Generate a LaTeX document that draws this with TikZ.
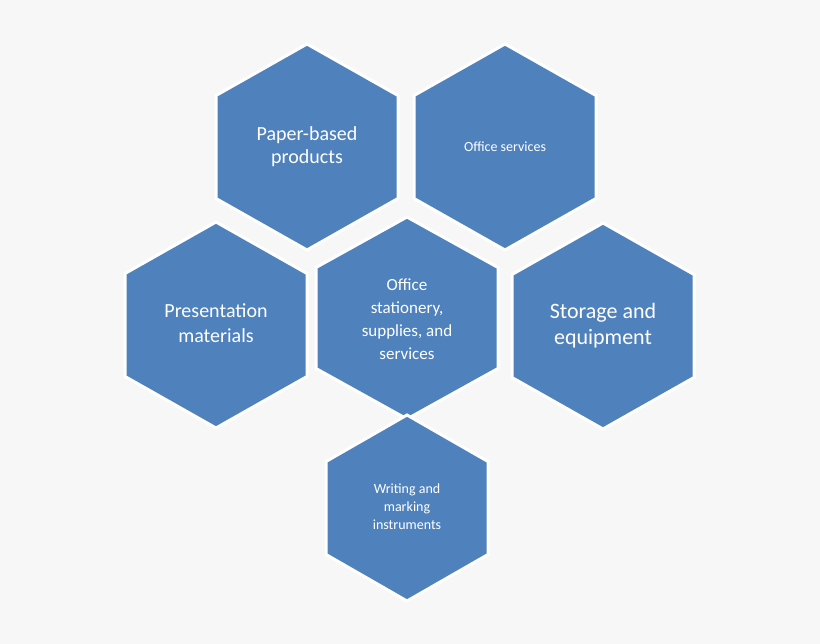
\documentclass[tikz,border=0pt]{standalone}
\usepackage{fontspec}
\setmainfont{Carlito}
\definecolor{bg}{HTML}{F7F7F7}
\definecolor{hexblue}{HTML}{4F81BD}
\tikzset{hexshape/.style={fill=hexblue,draw=white,line width=3pt,line join=miter},
 hexlabel/.style={text=white,align=center,inner sep=0pt}}
\newcommand{\hexat}[4]{% cx cy w h
 \path[hexshape] (#1,#2-#4/2) -- (#1+#3/2,#2-#4/4) -- (#1+#3/2,#2+#4/4) -- (#1,#2+#4/2) -- (#1-#3/2,#2+#4/4) -- (#1-#3/2,#2-#4/4) -- cycle;}
\begin{document}
\begin{tikzpicture}[x=1pt,y=-1pt]
\fill[bg] (0,0) rectangle (820,644);
\useasboundingbox (0,0) rectangle (820,644);
\hexat{307}{147}{182}{206}
\hexat{505}{147}{182}{206}
\hexat{216}{325}{182}{206}
\hexat{603}{326}{182}{206}
\hexat{407}{318}{182}{202}
\hexat{407}{508}{162}{186}
\node[hexlabel,font=\fontsize{20}{23}\selectfont] (paper) at (307,147) {Paper-based\\products};
\node[hexlabel,font=\fontsize{14}{17}\selectfont] (services) at (505,147) {Office services};
\node[hexlabel,font=\fontsize{20}{25}\selectfont] (pres) at (216,323) {Presentation\\materials};
\node[hexlabel,font=\fontsize{22}{26}\selectfont] (storage) at (603,326) {Storage and\\equipment};
\node[hexlabel,font=\fontsize{17}{23}\selectfont] (center) at (407,319) {Office\\stationery,\\supplies, and\\services};
\node[hexlabel,font=\fontsize{14}{18}\selectfont] (writing) at (407,507) {Writing and\\marking\\instruments};
\end{tikzpicture}
\end{document}
